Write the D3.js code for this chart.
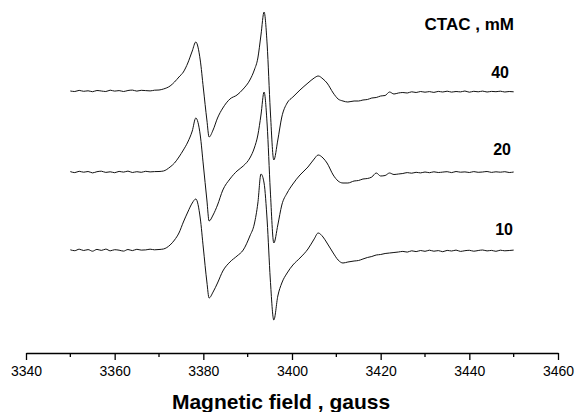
<!DOCTYPE html>
<html>
<head>
<meta charset="utf-8">
<script src="https://cdn.jsdelivr.net/npm/d3@7"></script>
<style>
    body { margin: 0; background: #fff; }
    svg { display: block; font-family: Arial, 'Liberation Sans', sans-serif; }
</style>
</head>
<body>
<div id="chart"></div>
<script>
// field values (gauss), split in three parts so the intensity arrays line up
const fieldLeft = [3350, 3351, 3352, 3353, 3354, 3355, 3356, 3357, 3358, 3359,
    3360, 3361, 3362, 3363, 3364, 3365, 3366, 3367, 3368, 3369];
const fieldMid = [3370, 3371, 3372.5, 3373.5, 3374.5, 3375.5, 3376.5, 3377.5,
    3378.3, 3379.3, 3380, 3380.8, 3381.3, 3382.2, 3383.2, 3384.4,
    3386, 3387.6, 3389, 3390.5, 3391.5, 3392.3, 3393, 3393.7,
    3394.4, 3395.1, 3395.9, 3396.8, 3397.7, 3398.9, 3400.2, 3401.8,
    3403.6, 3405, 3405.9, 3407, 3407.9, 3409.3, 3410.4, 3411.5,
    3412.6, 3414];
const fieldRight = [3415, 3416, 3417, 3418, 3419, 3420, 3421, 3422, 3423, 3424,
    3425, 3426, 3427, 3428, 3429, 3430, 3431, 3432, 3433, 3434,
    3435, 3436, 3437, 3438, 3439, 3440, 3441, 3442, 3443, 3444,
    3445, 3446, 3447, 3448, 3449, 3450];

// EPR signal (arb. units) for each CTAC concentration
const ctac40Left = [0, -0.5, 0.6, -0.3, 0.2, -0.7, 0.5, 0, -0.5, 0.8,
    -0.1, 0.4, -0.5, 0.5, 0.9, -0.1, 0.7, 0.4, 0.1, 0.8];
const ctac40Mid = [1, 2, 5, 9, 14, 19, 28, 40,
    49, 31, 3, -29, -46, -39, -27, -17,
    -8, -4, 2, 11, 21, 33, 56, 79,
    46, -19, -69, -49, -26, -12, -6, 1,
    8, 13, 15, 12, 8, -2, -8, -10,
    -11, -10];
const ctac40Right = [-10, -9, -8.5, -7, -6.5, -5, -4.5, -1, -3, -2,
    -1.5, -2, -0.8, -1.5, -0.5, -1.2, -0.6, -1.4, -0.4, -1,
    -0.2, -1.1, -0.5, -0.9, 0, -1.2, -0.3, -0.8, -0.1, -1,
    -0.4, -0.7, -0.2, -1, -0.5, -0.8];

const ctac20Left = [0.4, -0.6, 0.7, -0.2, 0.5, -0.9, 0.3, 0.8, -0.4, 0.2,
    -0.7, 0.6, -0.1, 0.9, -0.5, 0.3, -0.3, 0.7, 0.1, 0.4];
const ctac20Mid = [0.5, 1, 5, 9, 15, 22, 30, 41,
    54, 37, 7, -28, -49, -43, -33, -18,
    -7, 1, 6, 14, 24, 37, 57, 80,
    47, -18, -71, -53, -33, -21, -12, -3,
    5, 13, 17, 14, 9, -3, -9, -11,
    -11, -9];
const ctac20Right = [-8.5, -7, -6.5, -5, -1, -4, -3.5, -1, -2.5, -2,
    -1.5, -0.6, -1.2, -0.3, -0.9, 0, -0.7, 0.2, -0.5, -0.1,
    0.3, -0.6, 0.5, -0.2, 0.1, -0.5, 0.4, -0.3, 0, 0.5,
    -0.4, 0.2, -0.2, 0.3, -0.5, 0];

const ctac10Left = [1.2, 0.3, 1.8, 0.5, 1.4, -0.2, 1.6, 0.6, 1.9, 0.2,
    1.3, 0.8, -0.1, 1.5, 0.4, 1.7, 0.9, 1.1, 1.8, 1.2];
const ctac10Mid = [1.5, 2, 6, 11, 18, 29, 39, 48,
    52, 33, 3, -31, -47, -41, -32, -20,
    -11, -5, 1, 15, 27, 48, 77, 68,
    30, -28, -69, -45, -32, -22, -14, -7,
    2, 12, 18, 14, 8, -2, -9, -12,
    -11, -10];
const ctac10Right = [-9.5, -8, -6.5, -5.5, -4, -3.5, -2.5, -2, -1.5, -1,
    -0.4, -1.1, 0.2, -0.6, 0.5, -0.3, 0.8, -0.2, 0.4, -0.7,
    0.6, 0, 0.9, -0.4, 0.3, 0.7, -0.2, 0.5, 1, 0.1,
    0.6, -0.3, 0.8, 0.2, 0.5, 0.9];

const concLabels = ['40', '20', '10'];
const offsets = [160, 79, 0];
const xTicksMajor = [3340, 3360, 3380, 3400, 3420, 3440, 3460];
const xTicksMinor = [3350, 3370, 3390, 3410, 3430, 3450];

const field = fieldLeft.concat(fieldMid, fieldRight);
const spectra = [
    ctac40Left.concat(ctac40Mid, ctac40Right),
    ctac20Left.concat(ctac20Mid, ctac20Right),
    ctac10Left.concat(ctac10Mid, ctac10Right)
];

function drawChart(selector) {
    const width = 575;
    const height = 412;
    const axisY = 353;

    const svg = d3.select(selector)
        .append('svg')
        .attr('width', width)
        .attr('height', height);

    const x = d3.scaleLinear().domain([3340, 3460]).range([26, 558]);
    const y = d3.scaleLinear().domain([-102, 251]).range([axisY, 0]);

    const line = d3.line()
        .x(d => x(d[0]))
        .y(d => y(d[1]))
        .curve(d3.curveMonotoneX);

    spectra.forEach((values, i) => {
        const pts = field.map((f, j) => [f, values[j] + offsets[i]]);
        svg.append('path')
            .datum(pts)
            .attr('fill', 'none')
            .attr('stroke', '#111')
            .attr('stroke-width', 1)
            .attr('d', line);
    });

    // concentration labels
    const labelY = [78, 155, 235];
    const labelX = [509, 511, 513];
    concLabels.forEach((t, i) => {
        svg.append('text')
            .attr('x', labelX[i])
            .attr('y', labelY[i])
            .attr('text-anchor', 'end')
            .attr('font-size', '16px')
            .attr('font-weight', 'bold')
            .text(t);
    });

    svg.append('text')
        .attr('x', 514)
        .attr('y', 30)
        .attr('text-anchor', 'end')
        .attr('font-size', '17px')
        .attr('font-weight', 'bold')
        .text('CTAC , mM');

    // x axis, major ticks with labels and minor ticks
    const axis = svg.append('g')
        .attr('transform', `translate(0,${axisY})`)
        .call(d3.axisBottom(x)
            .tickValues(xTicksMajor)
            .tickFormat(d3.format('d'))
            .tickSize(7)
            .tickSizeOuter(0)
            .tickPadding(6));

    axis.select('.domain').attr('stroke', '#000').attr('stroke-width', 1.3);
    axis.selectAll('.tick line').attr('stroke', '#000').attr('stroke-width', 1.3);
    axis.selectAll('.tick text')
        .attr('fill', '#000')
        .attr('font-size', '14px')
        .attr('font-family', "Arial, 'Liberation Sans', sans-serif");

    svg.append('g')
        .selectAll('line')
        .data(xTicksMinor)
        .enter()
        .append('line')
        .attr('x1', d => x(d))
        .attr('x2', d => x(d))
        .attr('y1', axisY)
        .attr('y2', axisY + 4)
        .attr('stroke', '#000')
        .attr('stroke-width', 1.3);

    svg.append('text')
        .attr('x', 281)
        .attr('y', 409)
        .attr('text-anchor', 'middle')
        .attr('font-size', '21px')
        .attr('font-weight', 'bold')
        .text('Magnetic field , gauss');
}

drawChart('#chart');
</script>
</body>
</html>
